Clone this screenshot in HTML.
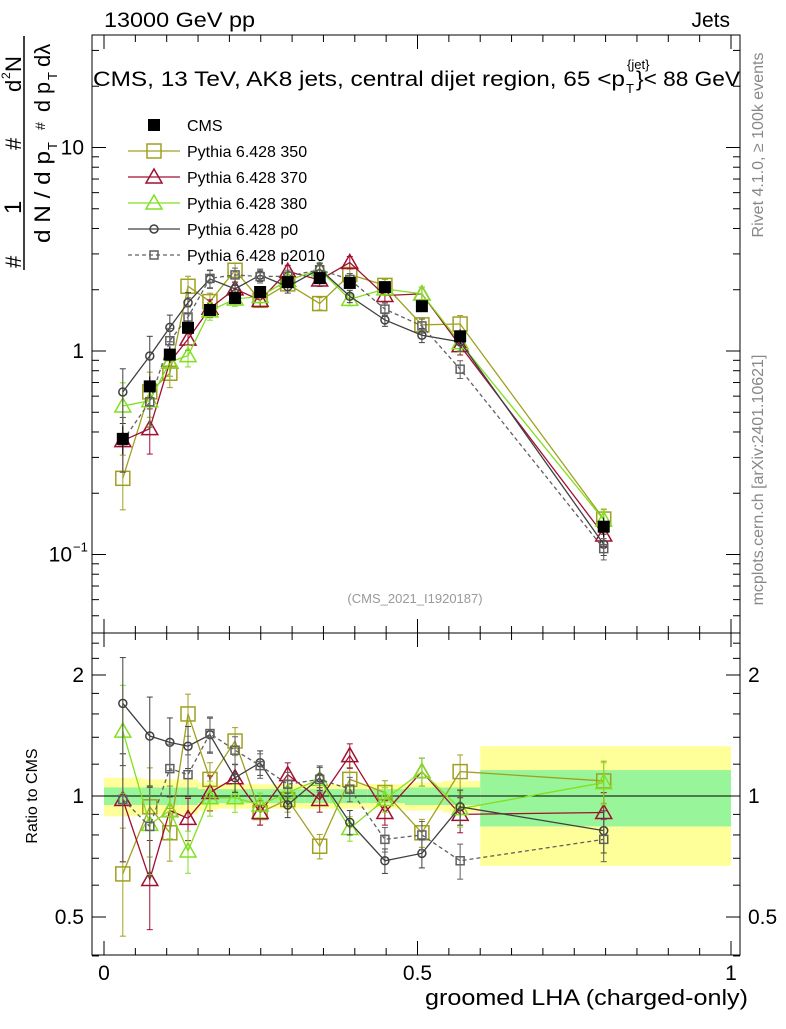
<!DOCTYPE html>
<html><head><meta charset="utf-8"><style>
body{margin:0;background:#fff}
svg{font-family:"Liberation Sans",sans-serif}
</style></head><body>
<svg id="c" width="786" height="1024" xmlns="http://www.w3.org/2000/svg"></svg>
<script>
const xs=[0.030,0.073,0.105,0.134,0.169,0.209,0.249,0.293,0.344,0.392,0.448,0.507,0.568,0.797];
const edges=[0,0.06,0.09,0.12,0.15,0.18,0.23,0.26,0.32,0.36,0.42,0.48,0.54,0.6,1.0];
const cms=[0.37,0.67,0.96,1.30,1.59,1.82,1.95,2.18,2.28,2.16,2.06,1.66,1.18,0.137];
const cmsErr=[0.06,0.08,0.09,0.1,0.1,0.1,0.1,0.1,0.1,0.1,0.1,0.1,0.1,0.015];
const bandStat=[0.05,0.05,0.05,0.05,0.04,0.04,0.04,0.04,0.04,0.04,0.04,0.05,0.05,0.16];
const bandTot=[0.11,0.1,0.1,0.1,0.08,0.07,0.07,0.07,0.07,0.07,0.07,0.08,0.09,0.33];
const r350=[0.64,0.94,0.81,1.60,1.10,1.37,0.91,0.98,0.75,1.10,1.02,0.81,1.15,1.09];
const r370=[0.98,0.62,0.92,0.88,1.02,1.11,0.91,1.13,0.98,1.26,0.91,1.15,0.90,0.91];
const r380=[1.45,0.85,0.92,0.73,0.99,0.99,0.95,1.02,1.10,0.83,0.98,1.15,0.93,1.08];
const rp0=[1.70,1.41,1.36,1.33,1.42,1.11,1.21,0.95,1.11,0.86,0.69,0.72,0.94,0.82];
const rp2010=[0.98,0.84,1.17,1.13,1.43,1.30,1.19,1.07,1.10,1.04,0.78,0.80,0.69,0.78];
const mcErrRel=[0.3,0.25,0.15,0.12,0.1,0.08,0.07,0.07,0.07,0.07,0.07,0.08,0.1,0.12];
const yTickLabels=["10","1","10"];
const ratioTicks=[0.5,1,2];
const ratioTickLabels=["0.5","1","2"];
const xTicks=[0,0.5,1];
const xTickLabels=["0","0.5","1"];

const S=document.getElementById('c');const NS="http://www.w3.org/2000/svg";
function el(t,a,p){const e=document.createElementNS(NS,t);for(const k in a)e.setAttribute(k,a[k]);(p||S).appendChild(e);return e;}
const X=v=>104+627*v;
const Y=v=>351-203.5*Math.log10(v);
const R=v=>796-121*Math.log2(v);
const L=92,Rt=740,T=35,M=633,B=955;

const gb=el('g',{});
for(let i=0;i<xs.length;i++){
 const x0=X(edges[i]),x1=X(edges[i+1]);
 el('rect',{x:x0,y:R(1+bandTot[i]),width:x1-x0,height:R(1-bandTot[i])-R(1+bandTot[i]),fill:'#ffff99'},gb);
 el('rect',{x:x0,y:R(1+bandStat[i]),width:x1-x0,height:R(1-bandStat[i])-R(1+bandStat[i]),fill:'#99f599'},gb);
}
el('line',{x1:L,x2:Rt,y1:R(1),y2:R(1),stroke:'#000'});

const f1=el('rect',{x:L,y:T,width:Rt-L,height:M-T,fill:'none',stroke:'#000'});

const f2=el('rect',{x:L,y:M,width:Rt-L,height:B-M,fill:'none',stroke:'#000'});


for(let k=0;k<=20;k++){const v=k/20;const x=X(v);const big=k%10==0;const len=big?14:7;
 for(const [a,b] of [[M,M-len],[T,T+len],[B,B-len],[M,M+len]])el('line',{x1:x,x2:x,y1:a,y2:b,stroke:'#000'});}
xTicks.forEach((v,i)=>{const t=el('text',{x:X(v),y:980,'font-size':21,'text-anchor':'middle'});t.textContent=xTickLabels[i];
 });
for(let d=-2;d<=1;d++)for(let m=1;m<10;m++){const v=m*Math.pow(10,d);const y=Y(v);if(y<T||y>M)continue;const len=m==1?14:7;
 el('line',{x1:L,x2:L+len,y1:y,y2:y,stroke:'#000'});el('line',{x1:Rt,x2:Rt-len,y1:y,y2:y,stroke:'#000'});}
[[10,''],[1,''],[0.1,'−1']].forEach((p,i)=>{const t=el('text',{x:i==2?72:84,y:Y(p[0])+7,'font-size':21,'text-anchor':'end'});t.textContent=yTickLabels[i];
 
 if(p[1]){const s=el('text',{x:73,y:Y(p[0])-3,'font-size':13});s.textContent=p[1];}});
[0.4,0.5,0.6,0.7,0.8,0.9,1,1.2,1.4,1.6,1.8,2,2.2,2.4].forEach(v=>{const y=R(v);const len=(v==0.5||v==1||v==2)?14:7;
 el('line',{x1:L,x2:L+len,y1:y,y2:y,stroke:'#000'});el('line',{x1:Rt,x2:Rt-len,y1:y,y2:y,stroke:'#000'});});
ratioTicks.forEach((v,i)=>{for(const [x,a] of [[84,'end'],[748,'start']]){const t=el('text',{x:x,y:R(v)+7,'font-size':21,'text-anchor':a});t.textContent=ratioTickLabels[i];
 }});

const series=[
 {n:'pythia-350',r:r350,c:'#a0a020',m:'sq',s:14},
 {n:'pythia-370',r:r370,c:'#a01030',m:'tri',s:14},
 {n:'pythia-380',r:r380,c:'#80e020',m:'tri',s:14},
 {n:'pythia-p0',r:rp0,c:'#404040',m:'circ',s:8},
 {n:'pythia-p2010',r:rp2010,c:'#606060',m:'sq',s:8,dash:'4,3'}];
function marker(g,m,x,y,s,c){
 if(m=='sq')el('rect',{x:x-s/2,y:y-s/2,width:s,height:s,fill:'none',stroke:c,'stroke-width':1.5},g);
 else if(m=='tri')el('polygon',{points:`${x},${y-s/2-1} ${x-s/2-1},${y+s/2-1} ${x+s/2+1},${y+s/2-1}`,fill:'none',stroke:c,'stroke-width':1.5},g);
 else el('circle',{cx:x,cy:y,r:s/2,fill:'none',stroke:c,'stroke-width':1.5},g);}
function errbar(g,x,y1,y2,c){el('line',{x1:x,x2:x,y1:y1,y2:y2,stroke:c},g);el('line',{x1:x-3,x2:x+3,y1:y1,y2:y1,stroke:c},g);el('line',{x1:x-3,x2:x+3,y1:y2,y2:y2,stroke:c},g);}
series.forEach(sr=>{
 const g=el('g',{});
 const mc=sr.r.map((v,i)=>v*cms[i]);
 const sty={fill:'none',stroke:sr.c,'stroke-width':1.3};if(sr.dash)sty['stroke-dasharray']=sr.dash;
 el('polyline',Object.assign({points:xs.map((x,i)=>X(x)+','+Y(mc[i])).join(' ')},sty),g);
 el('polyline',Object.assign({points:xs.map((x,i)=>X(x)+','+R(sr.r[i])).join(' ')},sty),g);
 xs.forEach((x,i)=>{const e=mcErrRel[i];
  errbar(g,X(x),Y(mc[i]*(1+e)),Y(mc[i]*(1-e)),sr.c);
  errbar(g,X(x),R(sr.r[i]*(1+e)),R(sr.r[i]*(1-e)),sr.c);
  marker(g,sr.m,X(x),Y(mc[i]),sr.s,sr.c);marker(g,sr.m,X(x),R(sr.r[i]),sr.s,sr.c);});
});
const gd=el('g',{});
xs.forEach((x,i)=>{el('line',{x1:X(x),x2:X(x),y1:Y(cms[i]+cmsErr[i]),y2:Y(cms[i]-cmsErr[i]),stroke:'#000'},gd);
 el('rect',{x:X(x)-6,y:Y(cms[i])-6,width:12,height:12,fill:'#000'},gd);});

const lg=el('g',{});
el('rect',{x:148,y:119,width:12,height:12,fill:'#000'},lg);
let t=el('text',{x:187,y:131,'font-size':16},lg);t.textContent='CMS';
const names=['Pythia 6.428 350','Pythia 6.428 370','Pythia 6.428 380','Pythia 6.428 p0','Pythia 6.428 p2010'];
series.forEach((sr,i)=>{const y=151+26*i;const sty={stroke:sr.c,'stroke-width':1.3};if(sr.dash)sty['stroke-dasharray']=sr.dash;
 el('line',Object.assign({x1:128,x2:180,y1:y,y2:y},sty),lg);marker(lg,sr.m,154,y,sr.s,sr.c);
 const tt=el('text',{x:187,y:y+6,'font-size':16},lg);tt.textContent=names[i];
 });

let e;
e=el('text',{x:104,y:27,'font-size':21,textLength:151,lengthAdjust:'spacingAndGlyphs'});e.textContent='13000 GeV pp';
e=el('text',{x:730,y:27,'font-size':21,'text-anchor':'end'});e.textContent='Jets';
e=el('text',{x:93,y:86,'font-size':21,textLength:532,lengthAdjust:'spacingAndGlyphs'});e.textContent='CMS, 13 TeV, AK8 jets, central dijet region, 65 <p';
e=el('text',{x:626,y:93,'font-size':13});e.textContent='T';
e=el('text',{x:627,y:69,'font-size':13});e.textContent='{jet}';
e=el('text',{x:636,y:86,'font-size':21,textLength:104,lengthAdjust:'spacingAndGlyphs'});e.textContent='}< 88 GeV';
e=el('text',{x:415,y:603,'font-size':13,fill:'#999','text-anchor':'middle'});e.textContent='(CMS_2021_I1920187)';
e=el('text',{x:425,y:1005,'font-size':22,textLength:323,lengthAdjust:'spacingAndGlyphs'});e.textContent='groomed LHA (charged-only)';
e=el('text',{x:0,y:0,'font-size':16,'text-anchor':'middle',transform:'translate(37,796) rotate(-90)'});e.textContent='Ratio to CMS';
e=el('text',{x:0,y:0,'font-size':16,fill:'#888','text-anchor':'middle',transform:'translate(763,145) rotate(-90)'});e.textContent='Rivet 4.1.0, ≥ 100k events';
e=el('text',{x:0,y:0,'font-size':16,fill:'#888','text-anchor':'middle',transform:'translate(763,480) rotate(-90)'});e.textContent='mcplots.cern.ch [arXiv:2401.10621]';
const yt=el('g',{});
[['#',21,268,22],['1',21,214,24],['#',21,150,22],['d',21,92,22],['2',10,79,12],['N',21,72,22],
 ['d N / d p',50,243,22,92],['T',57,150,13],['#',45,130,14],['d p',50,112,22,30],['T',57,80,13],['dλ',50,67,22]].forEach(a=>{
 const attrs={x:0,y:0,'font-size':a[3],transform:`translate(${a[1]},${a[2]}) rotate(-90)`};
 if(a[4]){attrs.textLength=a[4];attrs.lengthAdjust='spacingAndGlyphs';}
 const q=el('text',attrs,yt);q.textContent=a[0];});
el('line',{x1:24,x2:24,y1:270,y2:36,stroke:'#000','stroke-width':1.5},yt);
</script>
</body></html>
